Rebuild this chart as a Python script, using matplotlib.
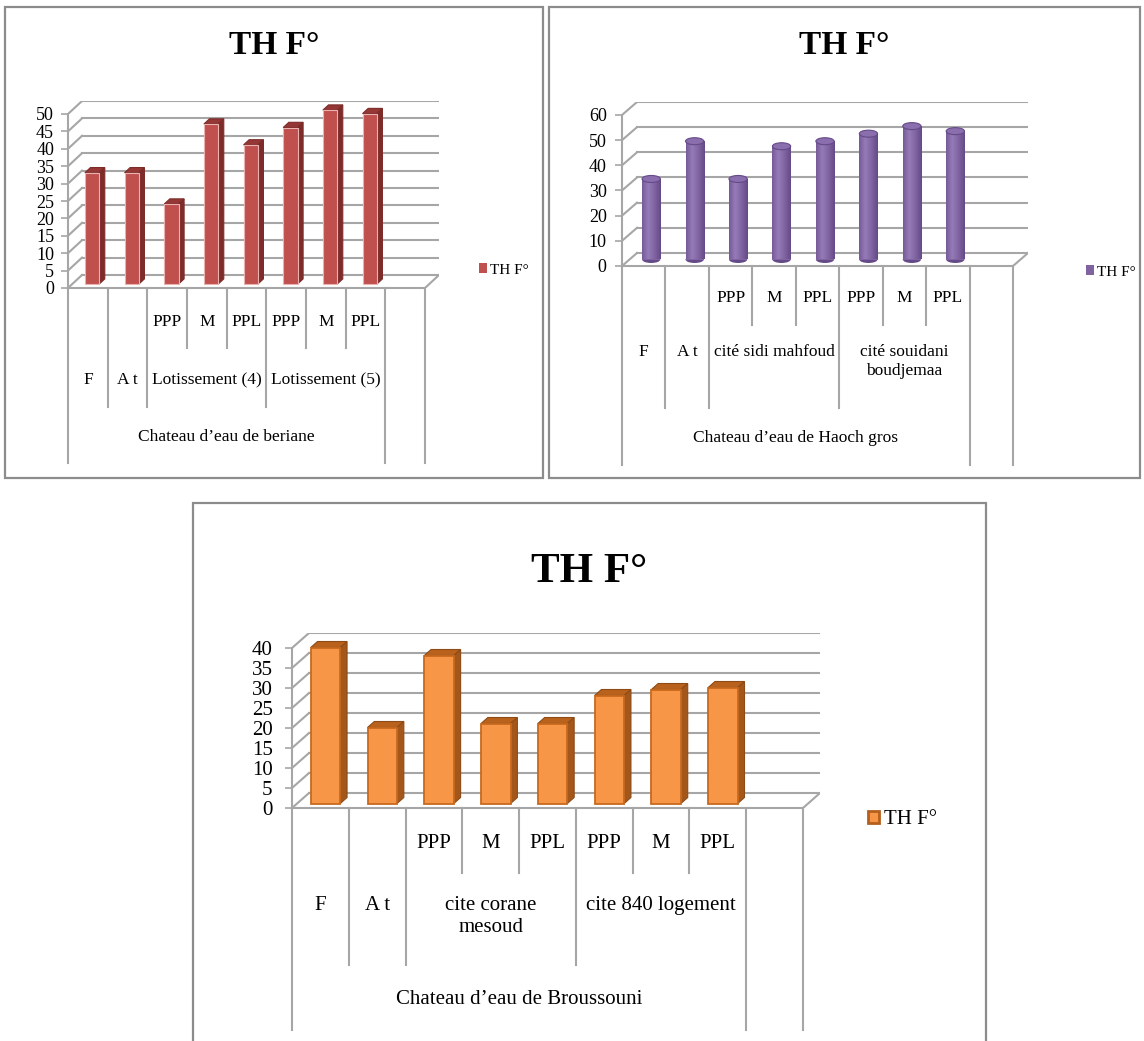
"""
Three 3D-style column charts of TH F° for the water towers
(beriane, Haoch gros, Broussouni), drawn in plain matplotlib.
"""

import matplotlib.pyplot as plt
import matplotlib.transforms as mtransforms
import numpy as np
from matplotlib.colors import LinearSegmentedColormap
from matplotlib.lines import Line2D
from matplotlib.patches import Ellipse, Patch, Polygon, Rectangle

plt.rcParams['font.family'] = ['Liberation Serif', 'DejaVu Serif']

W, H = 1144, 1041

series_name = 'TH F°'
title_text = 'TH F°'

sub_labels = ['', '', 'PPP', 'M', 'PPL', 'PPP', 'M', 'PPL']
group_spans = [(0, 1), (1, 2), (2, 5), (5, 8)]

beriane_values = [32, 32, 23, 46, 40, 45, 50, 49]
beriane_groups = ['F', 'A t', 'Lotissement (4)', 'Lotissement (5)']
beriane_site = 'Chateau d’eau de beriane'

haoch_values = [32, 47, 32, 45, 47, 50, 53, 51]
haoch_groups = ['F', 'A t', 'cité sidi mahfoud', 'cité souidani\nboudjemaa']
haoch_site = 'Chateau d’eau de Haoch gros'

brous_values = [39, 19, 37, 20, 20, 27, 28.5, 29]
brous_groups = ['F', 'A t', 'cite corane\nmesoud', 'cite 840 logement']
brous_site = 'Chateau d’eau de Broussouni'

GRID = '#a6a6a6'


def fx(px):
    return px / W


def fy(py):
    return 1 - py / H


def draw_panel(fig, g, values, groups, site, style):

    n = len(values) + 1   # Excel leaves one empty slot at the end
    slot_px = (g['right'] - g['left']) / n
    unit_px = (g['y0'] - g['ytop']) / g['ymax']
    ddx = g['ddx'] / slot_px
    ddy = g['ddy'] / unit_px

    # panel frame and title
    x0, y0, x1, y1 = g['box']
    fig.add_artist(Rectangle((fx(x0), fy(y1)), fx(x1 - x0), (y1 - y0) / H,
                             transform=fig.transFigure, fill=False,
                             edgecolor='#8c8c8c', lw=1.6))
    fig.text(fx((x0 + x1) / 2), fy(g['title_y']), title_text, ha='center',
             va='center', fontweight='bold', fontsize=g['title_size'])

    ax = fig.add_axes([fx(g['left']), fy(g['y0']),
                       fx(g['right'] + g['ddx'] - g['left']),
                       (g['y0'] - g['ytop'] + g['ddy']) / H])
    ax.set_facecolor('none')
    for side in ['top', 'right', 'bottom']:
        ax.spines[side].set_visible(False)
    ax.spines['left'].set_color(GRID)
    ax.spines['left'].set_linewidth(1.5)
    ax.spines['left'].set_bounds(0, g['ymax'])
    ticks = np.arange(0, g['ymax'] + 1, g['step'])
    ax.set_yticks(ticks)
    ax.set_xticks([])
    ax.tick_params(axis='y', labelsize=g['tick_size'], direction='out',
                   length=5, width=1.2, color=GRID, pad=g['tick_pad'])

    # back wall, side wall and floor
    for v in ticks:
        ax.plot([ddx, n + ddx], [v + ddy, v + ddy], color=GRID, lw=1.5, zorder=1)
        ax.plot([0, ddx], [v, v + ddy], color=GRID, lw=1.5, zorder=1)
    ax.plot([n, n + ddx], [0, ddy], color=GRID, lw=1.5, zorder=1)
    ax.plot([0, n], [0, 0], color=GRID, lw=1.5, zorder=1, clip_on=False)

    # columns
    f, d = 0.3, 0.4
    centers = np.arange(len(values)) + 0.5
    if style['kind'] == 'box':
        w = style['width']
        ax.bar(centers + f * ddx, values, width=w, bottom=f * ddy,
               color=style['front'], edgecolor=style['edge'],
               linewidth=style['edge_lw'], zorder=4)
        for c, v in zip(centers, values):
            xa, xb = c - w / 2, c + w / 2
            top = [(xa + f * ddx, v + f * ddy), (xb + f * ddx, v + f * ddy),
                   (xb + (f + d) * ddx, v + (f + d) * ddy),
                   (xa + (f + d) * ddx, v + (f + d) * ddy)]
            side = [(xb + f * ddx, f * ddy), (xb + (f + d) * ddx, (f + d) * ddy),
                    (xb + (f + d) * ddx, v + (f + d) * ddy),
                    (xb + f * ddx, v + f * ddy)]
            ax.add_patch(Polygon(top, closed=True, facecolor=style['top'],
                                 edgecolor=style['top_edge'], lw=0.8, zorder=3))
            ax.add_patch(Polygon(side, closed=True, facecolor=style['side'],
                                 edgecolor=style['top_edge'], lw=0.8, zorder=3))
    else:
        w = style['width']
        z = f + d / 2
        eh = style['ellipse_px'] / unit_px
        cmap = LinearSegmentedColormap.from_list('cyl', style['shades'])
        grad = np.linspace(0, 1, 64).reshape(1, -1)
        bars = ax.bar(centers + z * ddx, values, width=w, bottom=z * ddy,
                      color=style['front'], linewidth=0, zorder=3)
        for c, v, b in zip(centers, values, bars):
            xc = c + z * ddx
            ax.add_patch(Ellipse((xc, z * ddy), w, eh, facecolor=style['shades'][-1],
                                 lw=0, zorder=2.9))
            im = ax.imshow(grad, cmap=cmap, aspect='auto', zorder=3.5,
                           extent=[xc - w / 2, xc + w / 2, z * ddy, v + z * ddy])
            im.set_clip_path(b)
            ax.add_patch(Ellipse((xc, v + z * ddy), w, eh, facecolor=style['top'],
                                 edgecolor=style['shades'][-1], lw=0.8, zorder=4))

    ax.set_xlim(0, n + ddx)
    ax.set_ylim(0, g['ymax'] + ddy)

    # multi-level category table below the floor
    blend = mtransforms.blended_transform_factory(ax.transData, fig.transFigure)
    r1_text, r1_end, r2_top, r2_end, r3_text, r3_end = g['rows']

    def vline(x, y_end):
        ax.add_line(Line2D([x, x], [fy(g['y0']), fy(y_end)], transform=blend,
                           color=GRID, lw=1.5, clip_on=False))

    group_edges = {a for a, b in group_spans} | {b for a, b in group_spans}
    for k in range(n + 1):
        if k in (0, n - 1, n):
            vline(k, r3_end)
        elif k in group_edges:
            vline(k, r2_end)
        else:
            vline(k, r1_end)

    for c, lab in zip(centers, sub_labels):
        if lab:
            ax.text(c, fy(r1_text), lab, transform=blend, ha='center',
                    va='center', fontsize=g['cat_size'])
    for (a, b), lab in zip(group_spans, groups):
        ax.text((a + b) / 2, fy(r2_top), lab, transform=blend, ha='center',
                va='top', fontsize=g['cat_size'], linespacing=1.25)
    ax.text((n - 1) / 2, fy(r3_text), site, transform=blend, ha='center',
            va='center', fontsize=g['cat_size'])

    # legend
    handle = Patch(facecolor=style['legend_face'], edgecolor=style['legend_edge'],
                   linewidth=style['legend_lw'])
    lx, ly = g['legend']
    fig.legend([handle], [series_name], loc='center left',
               bbox_to_anchor=(fx(lx), fy(ly)), frameon=False,
               fontsize=g['legend_size'], handlelength=0.55, handleheight=0.55,
               handletextpad=0.2, borderpad=0, borderaxespad=0)
    return ax


def main():

    fig = plt.figure(figsize=(W / 100, H / 100), dpi=100)

    g1 = dict(box=(5, 7, 543, 478), title_y=45, title_size=24,
              left=68, right=425, y0=288, ytop=114, ymax=50, step=5,
              ddx=14, ddy=13, tick_size=13, tick_pad=5, cat_size=12.5,
              legend_size=11,
              rows=(322, 348, 372, 407, 437, 463), legend=(479, 270))
    s1 = dict(kind='box', width=0.36, front='#c0504d', edge='#eab3b1',
              edge_lw=0.8, top='#953735', side='#7d2c2a', top_edge='#7d2c2a',
              legend_face='#c0504d', legend_edge='#c0504d', legend_lw=0)

    g2 = dict(box=(549, 7, 1140, 478), title_y=45, title_size=24,
              left=622, right=1013, y0=266, ytop=115, ymax=60, step=10,
              ddx=15, ddy=13, tick_size=13, tick_pad=6, cat_size=12.5,
              legend_size=11,
              rows=(298, 325, 344, 408, 438, 465), legend=(1086, 272))
    s2 = dict(kind='cyl', width=0.42, front='#8064a2', ellipse_px=7,
              shades=['#775b99', '#957bb7', '#8064a2', '#654a88'],
              top='#8a6eae',
              legend_face='#8064a2', legend_edge='#8064a2', legend_lw=0)

    g3 = dict(box=(193, 503, 986, 1060), title_y=572, title_size=31,
              left=292, right=803, y0=808, ytop=648, ymax=40, step=5,
              ddx=17, ddy=15, tick_size=15, tick_pad=9, cat_size=15,
              legend_size=15,
              rows=(843, 873, 896, 965, 1000, 1030), legend=(868, 820))
    s3 = dict(kind='box', width=0.52, front='#f79646', edge='#c8691f',
              edge_lw=1.3, top='#b8621d', side='#a4571a', top_edge='#8f4b16',
              legend_face='#f79646', legend_edge='#b65f1c', legend_lw=2)

    draw_panel(fig, g1, beriane_values, beriane_groups, beriane_site, s1)
    draw_panel(fig, g2, haoch_values, haoch_groups, haoch_site, s2)
    draw_panel(fig, g3, brous_values, brous_groups, brous_site, s3)

    fig.savefig('out.png', dpi=100)


if __name__ == '__main__':
    main()
